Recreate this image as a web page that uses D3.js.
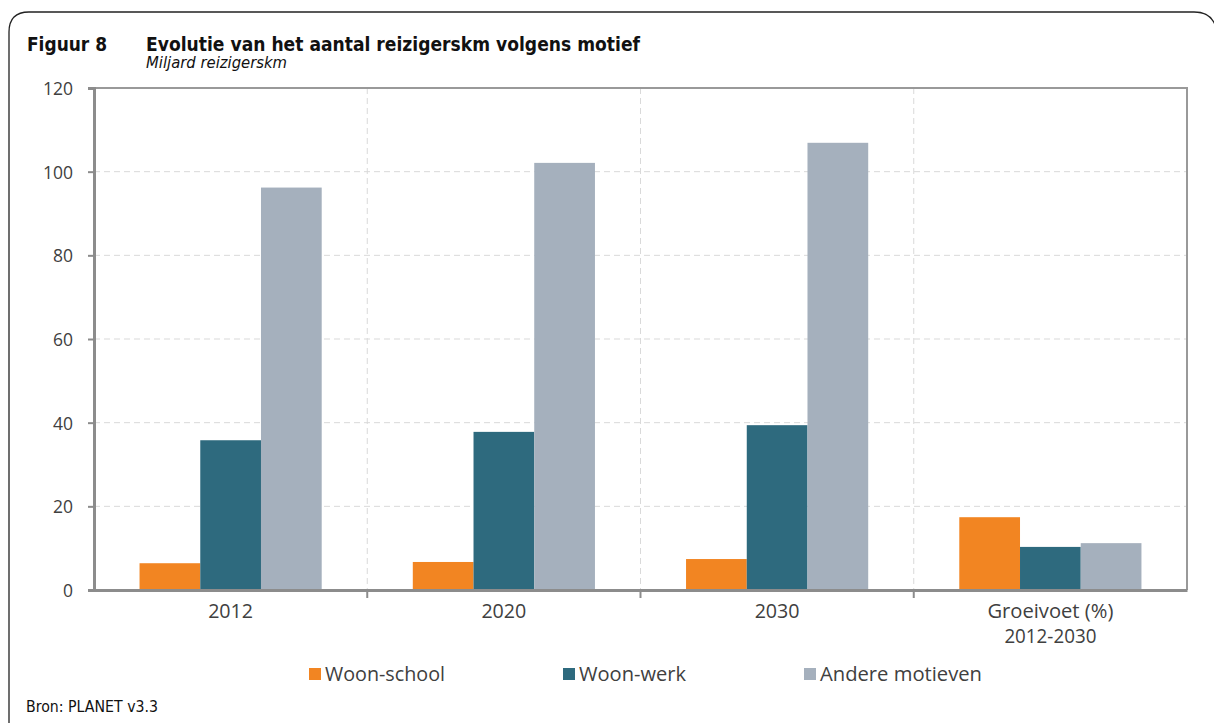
<!DOCTYPE html>
<html><head><meta charset="utf-8">
<script src="https://cdn.jsdelivr.net/npm/d3@7"></script>
<style>body{margin:0;background:#fff;}svg{display:block;}</style>
</head><body>
<svg id="c" width="1214" height="725"></svg>
<script>
const categories = ["2012", "2020", "2030", "Groeivoet (%)\n2012-2030"];
const seriesNames = ["Woon-school", "Woon-werk", "Andere motieven"];
const wonenSchool = [6.4, 6.7, 7.4, 17.4];
const woonWerk = [35.8, 37.8, 39.4, 10.3];
const andereMotieven = [96.2, 102.1, 106.9, 11.2];
const yTicks = [0, 20, 40, 60, 80, 100, 120];
const colors = ["#F28522", "#2E6A7E", "#A5B0BD"];
const seriesValues = [wonenSchool, woonWerk, andereMotieven];

const svg = d3.select("#c");
const L = 94, R = 1187, T = 88, B = 590;
const x = d3.scaleBand().domain(categories).range([L, R]).paddingInner(0).paddingOuter(0);
const x1 = d3.scaleBand().domain(seriesNames).range([0, x.bandwidth()]).paddingInner(0).paddingOuter(0.75);
const y = d3.scaleLinear().domain([0, 120]).range([B, T]);

const fontUI = "'Open Sans', 'Noto Sans', sans-serif";
const fontT = "'DejaVu Sans', sans-serif";
const fit = (sel, w) => sel.attr("textLength", w).attr("lengthAdjust", "spacingAndGlyphs");

// frame
svg.append("path")
  .attr("d", "M9,723 L9,32 Q9,12 29,12 L1194,12 Q1212,12 1216,28")
  .attr("fill", "none").attr("stroke", "#222").attr("stroke-width", 1.3);

fit(svg.append("text").attr("x", 27).attr("y", 51).attr("font-family", fontT).attr("font-weight", "bold")
  .attr("font-size", 19).attr("fill", "#111").text("Figuur 8"), 80);
fit(svg.append("text").attr("x", 146).attr("y", 51).attr("font-family", fontT).attr("font-weight", "bold")
  .attr("font-size", 19).attr("fill", "#111").text("Evolutie van het aantal reizigerskm volgens motief"), 494);
fit(svg.append("text").attr("x", 146).attr("y", 68).attr("font-family", fontT).attr("font-style", "italic")
  .attr("font-size", 15).attr("fill", "#111").text("Miljard reizigerskm"), 141);
fit(svg.append("text").attr("x", 26).attr("y", 712).attr("font-family", fontT)
  .attr("font-size", 16).attr("fill", "#111").text("Bron: PLANET v3.3"), 132);

// gridlines horizontal
svg.append("g").selectAll("line").data(yTicks.filter(d => d > 0 && d < 120)).join("line")
  .attr("x1", L).attr("x2", R).attr("y1", d => y(d)).attr("y2", d => y(d))
  .attr("stroke", "#d9d9d9").attr("stroke-dasharray", "6,4").attr("stroke-width", 1);
// vertical gridlines
svg.append("g").selectAll("line").data(categories.slice(1)).join("line")
  .attr("x1", d => x(d)).attr("x2", d => x(d)).attr("y1", T).attr("y2", B)
  .attr("stroke", "#d9d9d9").attr("stroke-dasharray", "6,4").attr("stroke-width", 1);

// bars
const g = svg.append("g");
categories.forEach((c, ci) => {
  seriesNames.forEach((s, si) => {
    g.append("rect")
      .attr("x", x(c) + x1(s)).attr("width", x1.bandwidth())
      .attr("y", y(seriesValues[si][ci])).attr("height", B - y(seriesValues[si][ci]))
      .attr("fill", colors[si]);
  });
});

// frame top/right
svg.append("line").attr("x1", L).attr("x2", R + 1).attr("y1", T).attr("y2", T).attr("stroke", "#999").attr("stroke-width", 2);
svg.append("line").attr("x1", R).attr("x2", R).attr("y1", T).attr("y2", B).attr("stroke", "#999").attr("stroke-width", 2);

// y axis
const ya = svg.append("g").attr("transform", `translate(${L},0)`)
  .call(d3.axisLeft(y).tickValues(yTicks).tickSize(6).tickPadding(15));
ya.select(".domain").attr("stroke", "#8c8c8c").attr("stroke-width", 3);
ya.selectAll(".tick line").attr("stroke", "#8c8c8c").attr("stroke-width", 2);
ya.selectAll("text").attr("font-family", fontUI).attr("font-size", 19).attr("fill", "#404040")
  .attr("dy", "0.35em")
  .each(function(d) { fit(d3.select(this), String(d).length * 10); });

// x axis
const xa = svg.append("g").attr("transform", `translate(0,${B})`)
  .call(d3.axisBottom(x).tickSize(0).tickFormat(""));
xa.select(".domain").attr("stroke", "#8c8c8c").attr("stroke-width", 3);
xa.selectAll(".tick").remove();
xa.selectAll("line.sep").data(categories.slice(1)).join("line").attr("class", "sep")
  .attr("x1", d => x(d)).attr("x2", d => x(d)).attr("y1", 0).attr("y2", 8)
  .attr("stroke", "#8c8c8c").attr("stroke-width", 2);
const labelW = {"2012": 45, "2020": 45, "2030": 45, "Groeivoet (%)": 126, "2012-2030": 92};
categories.forEach(c => {
  const lines = c.split("\n");
  const cx = x(c) + x.bandwidth() / 2;
  lines.forEach((ln, i) => {
    fit(svg.append("text").attr("x", cx).attr("y", 618 + i * 25)
      .attr("text-anchor", "middle").attr("font-family", fontUI).attr("font-size", 20)
      .attr("fill", "#404040").text(ln), labelW[ln]);
  });
});

// legend
const legX = [309, 563, 804];
const legW = [120, 107, 162];
seriesNames.forEach((s, i) => {
  svg.append("rect").attr("x", legX[i]).attr("y", 668).attr("width", 12).attr("height", 12).attr("fill", colors[i]);
  fit(svg.append("text").attr("x", legX[i] + 16).attr("y", 681).attr("font-family", fontUI)
    .attr("font-size", 19.5).attr("fill", "#404040").text(s), legW[i]);
});
</script>
</body></html>
